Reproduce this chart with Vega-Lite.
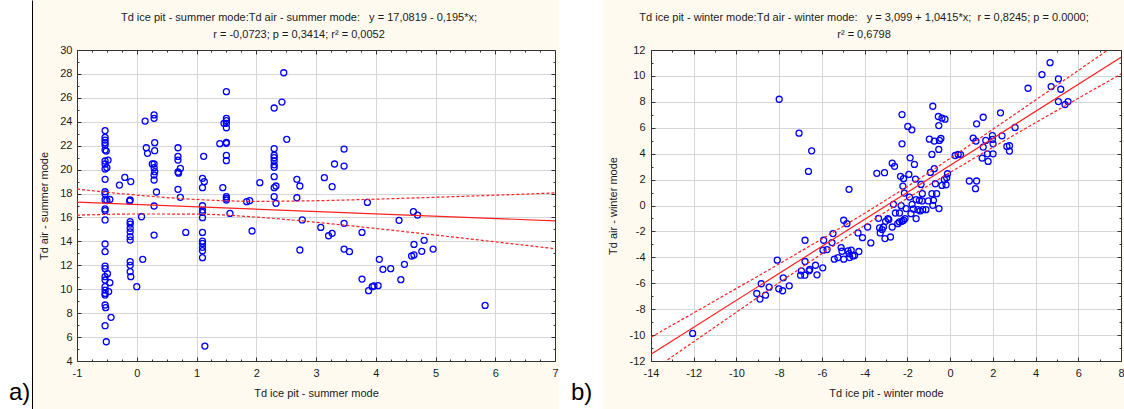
{
  "$schema": "https://vega.github.io/schema/vega-lite/v6.json",
  "background": "#fefaf0",
  "padding": {"left": 0, "right": 0, "top": 0, "bottom": 0},
  "spacing": 0,
  "config": {
    "font": "Liberation Sans",
    "locale": {"number": {"decimal": ".", "thousands": ",", "grouping": [3], "currency": ["", ""], "minus": "-"}},
    "view": {"stroke": null},
    "axis": {"labelFont": "Liberation Sans", "labelFontSize": 11, "labelColor": "#1a1a1a", "titleFont": "Liberation Sans", "titleFontSize": 11, "titleFontWeight": "normal", "titleColor": "#1a1a1a", "tickColor": "#333333", "domainColor": "#333333", "gridColor": "#d6d6d6", "labelFlush": false},
    "title": {"font": "Liberation Sans", "fontSize": 11, "fontWeight": "normal", "color": "#1a1a1a"}
  },
  "datasets": {
    "summerTitle": [
      {"line": 1, "t": "Td ice pit - summer mode:Td air - summer mode:\u00a0\u00a0 y = 17,0819 - 0,195*x;"},
      {"line": 2, "t": "r = -0,0723; p = 0,3414; r² = 0,0052"}
    ],
    "winterTitle": [
      {"line": 1, "t": "Td ice pit - winter mode:Td air - winter mode:\u00a0\u00a0 y = 3,099 + 1,0415*x;\u00a0 r = 0,8245; p = 0.0000;"},
      {"line": 2, "t": "r² = 0,6798"}
    ],
    "summer": [
      {"x": -0.53, "y": 23.26}, {"x": -0.53, "y": 22.7}, {"x": -0.53, "y": 22.47}, {"x": -0.53, "y": 22.25}, {"x": -0.53, "y": 22.06}, {"x": -0.53, "y": 21.64}, {"x": -0.51, "y": 21.55}, {"x": -0.53, "y": 20.72}, {"x": -0.53, "y": 20.47}, {"x": -0.53, "y": 20.05}, {"x": -0.53, "y": 19.19}, {"x": -0.53, "y": 18.15}, {"x": -0.53, "y": 17.96}, {"x": -0.53, "y": 17.46}, {"x": -0.53, "y": 16.71}, {"x": -0.53, "y": 16.57}, {"x": -0.53, "y": 15.79}, {"x": -0.53, "y": 13.78}, {"x": -0.53, "y": 13.14}, {"x": -0.53, "y": 11.94}, {"x": -0.53, "y": 11.72}, {"x": -0.53, "y": 11.05}, {"x": -0.53, "y": 10.77}, {"x": -0.53, "y": 10.21}, {"x": -0.53, "y": 9.93}, {"x": -0.53, "y": 9.65}, {"x": -0.53, "y": 9.51}, {"x": -0.53, "y": 8.68}, {"x": -0.52, "y": 8.46}, {"x": -0.53, "y": 6.95}, {"x": -0.51, "y": 5.61},
      {"x": -0.48, "y": 20.8}, {"x": -0.5, "y": 20.16}, {"x": -0.45, "y": 17.5}, {"x": -0.49, "y": 11.3}, {"x": -0.45, "y": 10.55}, {"x": -0.47, "y": 9.8}, {"x": -0.43, "y": 7.65}, {"x": -0.5, "y": 17.42},
      {"x": -0.11, "y": 17.46}, {"x": -0.12, "y": 17.36}, {"x": -0.11, "y": 15.65}, {"x": -0.11, "y": 15.45}, {"x": -0.11, "y": 15.1}, {"x": -0.11, "y": 14.8}, {"x": -0.11, "y": 14.4}, {"x": -0.11, "y": 14.11}, {"x": -0.11, "y": 12.3}, {"x": -0.11, "y": 12.0}, {"x": -0.11, "y": 11.47}, {"x": -0.1, "y": 11.05}, {"x": -0.1, "y": 19.0}, {"x": -0.2, "y": 19.35}, {"x": -0.29, "y": 18.71}, {"x": 0.0, "y": 10.21}, {"x": 0.08, "y": 16.06}, {"x": 0.1, "y": 12.5},
      {"x": 0.29, "y": 24.57}, {"x": 0.29, "y": 24.29}, {"x": 0.3, "y": 22.25}, {"x": 0.3, "y": 21.58}, {"x": 0.29, "y": 20.47}, {"x": 0.29, "y": 20.16}, {"x": 0.3, "y": 19.83}, {"x": 0.29, "y": 19.55}, {"x": 0.29, "y": 19.13}, {"x": 0.29, "y": 16.96}, {"x": 0.29, "y": 14.53}, {"x": 0.14, "y": 24.06}, {"x": 0.16, "y": 21.83}, {"x": 0.18, "y": 21.36}, {"x": 0.26, "y": 20.47}, {"x": 0.33, "y": 18.13},
      {"x": 0.69, "y": 21.83}, {"x": 0.69, "y": 21.1}, {"x": 0.69, "y": 20.8}, {"x": 0.69, "y": 19.8}, {"x": 0.7, "y": 19.7}, {"x": 0.69, "y": 18.35}, {"x": 0.73, "y": 20.1}, {"x": 0.73, "y": 17.68}, {"x": 0.82, "y": 14.75},
      {"x": 1.1, "y": 19.27}, {"x": 1.1, "y": 18.49}, {"x": 1.1, "y": 16.98}, {"x": 1.1, "y": 16.62}, {"x": 1.1, "y": 16.43}, {"x": 1.1, "y": 15.98}, {"x": 1.1, "y": 14.75}, {"x": 1.1, "y": 14.03}, {"x": 1.1, "y": 13.83}, {"x": 1.1, "y": 13.5}, {"x": 1.1, "y": 13.22}, {"x": 1.1, "y": 12.64}, {"x": 1.12, "y": 21.11}, {"x": 1.13, "y": 18.99}, {"x": 1.14, "y": 5.25},
      {"x": 1.5, "y": 26.52}, {"x": 1.5, "y": 24.29}, {"x": 1.5, "y": 24.1}, {"x": 1.5, "y": 23.87}, {"x": 1.5, "y": 23.5}, {"x": 1.5, "y": 22.28}, {"x": 1.5, "y": 22.2}, {"x": 1.5, "y": 21.19}, {"x": 1.5, "y": 20.75}, {"x": 1.5, "y": 17.74}, {"x": 1.5, "y": 17.6}, {"x": 1.5, "y": 17.46}, {"x": 1.46, "y": 23.87}, {"x": 1.44, "y": 18.49}, {"x": 1.39, "y": 22.17}, {"x": 1.56, "y": 16.34},
      {"x": 1.84, "y": 17.32}, {"x": 1.89, "y": 17.4}, {"x": 1.93, "y": 14.87}, {"x": 2.06, "y": 18.91},
      {"x": 2.3, "y": 25.15}, {"x": 2.3, "y": 21.75}, {"x": 2.3, "y": 21.2}, {"x": 2.3, "y": 21.0}, {"x": 2.3, "y": 20.75}, {"x": 2.3, "y": 20.4}, {"x": 2.3, "y": 20.19}, {"x": 2.3, "y": 19.41}, {"x": 2.3, "y": 18.49}, {"x": 2.3, "y": 17.74}, {"x": 2.33, "y": 18.63}, {"x": 2.33, "y": 17.18}, {"x": 2.43, "y": 25.65}, {"x": 2.46, "y": 28.1}, {"x": 2.51, "y": 22.53},
      {"x": 2.68, "y": 19.19}, {"x": 2.73, "y": 18.63}, {"x": 2.68, "y": 17.65}, {"x": 2.77, "y": 15.79}, {"x": 2.73, "y": 13.28},
      {"x": 3.08, "y": 15.17}, {"x": 3.14, "y": 19.33}, {"x": 3.27, "y": 18.57}, {"x": 3.31, "y": 20.47}, {"x": 3.21, "y": 14.47}, {"x": 3.27, "y": 14.67}, {"x": 3.47, "y": 21.72}, {"x": 3.47, "y": 20.3}, {"x": 3.47, "y": 15.51}, {"x": 3.47, "y": 13.36}, {"x": 3.56, "y": 13.14}, {"x": 3.77, "y": 14.75}, {"x": 3.77, "y": 10.85}, {"x": 3.86, "y": 17.26}, {"x": 3.88, "y": 9.88}, {"x": 3.94, "y": 10.21}, {"x": 3.97, "y": 10.27}, {"x": 4.04, "y": 10.3}, {"x": 4.06, "y": 12.5},
      {"x": 4.12, "y": 11.66}, {"x": 4.25, "y": 11.72}, {"x": 4.39, "y": 15.76}, {"x": 4.42, "y": 10.8}, {"x": 4.48, "y": 12.08}, {"x": 4.6, "y": 12.78}, {"x": 4.64, "y": 13.75}, {"x": 4.64, "y": 12.87}, {"x": 4.63, "y": 16.48}, {"x": 4.7, "y": 16.2}, {"x": 4.77, "y": 13.17}, {"x": 4.81, "y": 14.09}, {"x": 4.96, "y": 13.36}, {"x": 5.83, "y": 8.65}
    ],
    "summerFit": [{"x": -1, "y": 17.277}, {"x": 7, "y": 15.717}],
    "summerBand": [
      {"x": -1, "y": 18.37, "bound": "upper"}, {"x": 0, "y": 17.87, "bound": "upper"}, {"x": 1, "y": 17.5, "bound": "upper"}, {"x": 2, "y": 17.35, "bound": "upper"}, {"x": 3, "y": 17.4, "bound": "upper"}, {"x": 4, "y": 17.53, "bound": "upper"}, {"x": 5, "y": 17.69, "bound": "upper"}, {"x": 6, "y": 17.86, "bound": "upper"}, {"x": 7, "y": 18.05, "bound": "upper"},
      {"x": -1, "y": 16.19, "bound": "lower"}, {"x": 0, "y": 16.29, "bound": "lower"}, {"x": 1, "y": 16.28, "bound": "lower"}, {"x": 2, "y": 16.03, "bound": "lower"}, {"x": 3, "y": 15.6, "bound": "lower"}, {"x": 4, "y": 15.08, "bound": "lower"}, {"x": 5, "y": 14.53, "bound": "lower"}, {"x": 6, "y": 13.96, "bound": "lower"}, {"x": 7, "y": 13.39, "bound": "lower"}
    ],
    "winter": [
      {"x": -12.05, "y": -9.87}, {"x": -8.84, "y": -6.04}, {"x": -9.05, "y": -6.79}, {"x": -8.9, "y": -7.22}, {"x": -8.64, "y": -6.92}, {"x": -8.47, "y": -6.3},
      {"x": -8.0, "y": 8.2}, {"x": -7.07, "y": 5.58}, {"x": -6.48, "y": 4.22}, {"x": -6.63, "y": 2.63}, {"x": -4.73, "y": 1.25},
      {"x": -8.09, "y": -4.22}, {"x": -8.02, "y": -6.43}, {"x": -7.84, "y": -6.58}, {"x": -7.81, "y": -5.58}, {"x": -7.53, "y": -6.2},
      {"x": -6.79, "y": -2.68}, {"x": -6.79, "y": -4.32}, {"x": -6.96, "y": -5.04}, {"x": -7.0, "y": -5.38}, {"x": -6.8, "y": -5.38}, {"x": -6.6, "y": -5.04}, {"x": -6.57, "y": -4.94}, {"x": -6.3, "y": -4.61}, {"x": -6.23, "y": -5.35}, {"x": -5.96, "y": -4.81}, {"x": -5.92, "y": -2.68}, {"x": -5.95, "y": -3.45}, {"x": -5.76, "y": -3.4}, {"x": -5.53, "y": -2.86}, {"x": -5.48, "y": -2.17}, {"x": -5.42, "y": -4.14}, {"x": -5.25, "y": -4.02}, {"x": -5.1, "y": -3.25}, {"x": -5.06, "y": -3.53}, {"x": -4.98, "y": -1.14}, {"x": -4.83, "y": -1.4}, {"x": -4.98, "y": -4.14}, {"x": -4.78, "y": -3.5}, {"x": -4.73, "y": -3.71}, {"x": -4.63, "y": -3.45}, {"x": -4.55, "y": -3.89}, {"x": -4.7, "y": -4.02}, {"x": -4.47, "y": -3.86}, {"x": -4.31, "y": -2.12}, {"x": -4.27, "y": -3.55}, {"x": -4.1, "y": -2.48}, {"x": -3.86, "y": -1.66}, {"x": -3.71, "y": -2.89},
      {"x": -3.43, "y": 2.48}, {"x": -3.35, "y": -0.99}, {"x": -3.3, "y": -1.73}, {"x": -3.27, "y": -2.12}, {"x": -3.18, "y": -1.86}, {"x": -3.07, "y": 2.53}, {"x": -3.12, "y": -1.66}, {"x": -3.02, "y": -1.22}, {"x": -3.05, "y": -2.55}, {"x": -2.91, "y": -1.01}, {"x": -2.87, "y": -1.09}, {"x": -2.79, "y": -2.43}, {"x": -2.71, "y": -1.66}, {"x": -2.71, "y": 3.27}, {"x": -2.6, "y": 3.02}, {"x": -2.65, "y": 0.09}, {"x": -2.56, "y": -0.58}, {"x": -2.45, "y": -1.4}, {"x": -2.37, "y": -1.27}, {"x": -2.37, "y": -0.58}, {"x": -2.32, "y": 2.25}, {"x": -2.29, "y": -0.01}, {"x": -2.25, "y": -1.22}, {"x": -2.21, "y": 1.5}, {"x": -2.18, "y": -1.14}, {"x": -2.25, "y": 7.02}, {"x": -2.25, "y": 4.76}, {"x": -2.18, "y": 2.07}, {"x": -2.14, "y": 0.96}, {"x": -2.11, "y": -1.01}, {"x": -2.06, "y": -0.24}, {"x": -1.98, "y": 6.1}, {"x": -1.93, "y": 2.4}, {"x": -1.87, "y": 3.68}, {"x": -1.9, "y": 0.65}, {"x": -1.79, "y": 5.84}, {"x": -1.83, "y": -0.63}, {"x": -1.78, "y": 0.09}, {"x": -1.72, "y": -0.27}, {"x": -1.67, "y": 3.17}, {"x": -1.62, "y": 2.04}, {"x": -1.59, "y": 0.45}, {"x": -1.59, "y": -1.01}, {"x": -1.51, "y": -0.32}, {"x": -1.44, "y": 0.4}, {"x": -1.4, "y": -0.42}, {"x": -1.36, "y": 1.63}, {"x": -1.3, "y": 0.91}, {"x": -1.31, "y": 0.35}, {"x": -1.28, "y": -0.32}, {"x": -1.13, "y": -0.32}, {"x": -1.02, "y": 0.35}, {"x": -0.97, "y": 5.12}, {"x": -0.92, "y": 2.55}, {"x": -0.85, "y": 3.94}, {"x": -0.81, "y": 7.66}, {"x": -0.81, "y": 0.01}, {"x": -0.78, "y": 0.4}, {"x": -0.85, "y": 0.91}, {"x": -0.74, "y": 4.97}, {"x": -0.69, "y": 1.68}, {"x": -0.74, "y": 2.84}, {"x": -0.63, "y": 0.91}, {"x": -0.55, "y": 6.87}, {"x": -0.53, "y": 6.17}, {"x": -0.53, "y": 4.33}, {"x": -0.5, "y": 5.02}, {"x": -0.52, "y": -0.24}, {"x": -0.43, "y": 5.17}, {"x": -0.38, "y": 6.74}, {"x": -0.38, "y": 1.55}, {"x": -0.24, "y": 6.66}, {"x": -0.27, "y": 1.99}, {"x": -0.19, "y": 1.6}, {"x": -0.16, "y": 2.14}, {"x": -0.12, "y": 2.45}, {"x": 0.24, "y": 3.86}, {"x": 0.38, "y": 3.94},
      {"x": 0.49, "y": 3.92}, {"x": 0.9, "y": 1.89}, {"x": 1.24, "y": 1.89}, {"x": 1.19, "y": 1.3}, {"x": 1.24, "y": 6.3}, {"x": 1.55, "y": 6.81}, {"x": 1.08, "y": 5.2}, {"x": 1.21, "y": 4.97}, {"x": 1.67, "y": 5.02}, {"x": 1.55, "y": 4.51}, {"x": 1.5, "y": 3.66}, {"x": 1.75, "y": 3.99}, {"x": 1.78, "y": 3.4}, {"x": 1.98, "y": 5.4}, {"x": 1.98, "y": 5.1}, {"x": 2.01, "y": 4.76}, {"x": 2.01, "y": 3.99}, {"x": 2.36, "y": 7.15}, {"x": 2.43, "y": 5.38}, {"x": 2.66, "y": 4.56}, {"x": 2.78, "y": 4.61}, {"x": 2.78, "y": 4.2}, {"x": 3.04, "y": 6.02}, {"x": 3.65, "y": 9.05}, {"x": 4.3, "y": 10.1}, {"x": 4.68, "y": 11.02}, {"x": 4.73, "y": 9.18}, {"x": 5.07, "y": 9.77}, {"x": 5.18, "y": 8.97}, {"x": 5.07, "y": 8.02}, {"x": 5.38, "y": 7.79}, {"x": 5.52, "y": 8.02}
    ],
    "winterFit": [{"x": -14, "y": -11.482}, {"x": 8, "y": 11.431}],
    "winterBand": [
      {"x": -14, "y": -10.16, "bound": "upper"}, {"x": -12, "y": -8.285, "bound": "upper"}, {"x": -10, "y": -6.4, "bound": "upper"}, {"x": -8, "y": -4.5, "bound": "upper"}, {"x": -6, "y": -2.58, "bound": "upper"}, {"x": -4, "y": -0.6, "bound": "upper"}, {"x": -2, "y": 1.47, "bound": "upper"}, {"x": 0, "y": 3.64, "bound": "upper"}, {"x": 2, "y": 5.88, "bound": "upper"}, {"x": 4, "y": 8.14, "bound": "upper"}, {"x": 6, "y": 10.42, "bound": "upper"}, {"x": 8, "y": 12.71, "bound": "upper"},
      {"x": -14, "y": -12.8, "bound": "lower"}, {"x": -12, "y": -10.51, "bound": "lower"}, {"x": -10, "y": -8.23, "bound": "lower"}, {"x": -8, "y": -5.96, "bound": "lower"}, {"x": -6, "y": -3.72, "bound": "lower"}, {"x": -4, "y": -1.53, "bound": "lower"}, {"x": -2, "y": 0.56, "bound": "lower"}, {"x": 0, "y": 2.55, "bound": "lower"}, {"x": 2, "y": 4.49, "bound": "lower"}, {"x": 4, "y": 6.39, "bound": "lower"}, {"x": 6, "y": 8.27, "bound": "lower"}, {"x": 8, "y": 10.15, "bound": "lower"}
    ]
  },
  "hconcat": [
    {
      "width": 32, "height": 409,
      "view": {"fill": "#ffffff", "stroke": null},
      "title": {"text": "a)", "orient": "bottom", "anchor": "start", "frame": "group", "offset": -28, "dx": 9, "fontSize": 24, "color": "#000000"},
      "data": {"values": [{"v": 0.5}]},
      "mark": {"type": "rule", "opacity": 0},
      "encoding": {"y": {"field": "v", "type": "quantitative", "scale": {"domain": [0, 1]}, "axis": {"orient": "right", "domain": true, "domainColor": "#000000", "domainWidth": 1, "labels": false, "ticks": false, "grid": false, "title": null}}}
    },
    {
      "width": 6, "height": 409,
      "data": {"values": [{"v": 0}]},
      "mark": {"type": "text", "text": ""},
      "encoding": {}
    },
    {
      "spacing": 0,
      "vconcat": [
        {
          "width": 478, "height": 44,
          "data": {"name": "summerTitle"},
          "mark": {"type": "text", "fontSize": 11, "font": "Liberation Sans", "color": "#1a1a1a", "baseline": "middle", "align": "center", "dx": -17},
          "encoding": {
            "text": {"field": "t", "type": "nominal"},
            "y": {"field": "line", "type": "ordinal", "scale": {"type": "point", "domain": [1, 2], "padding": 0.794, "align": 0.685}, "axis": null}
          }
        },
        {
          "width": 478, "height": 311,
          "view": {"fill": "#ffffff", "stroke": null},
          "resolve": {"axis": {"x": "independent", "y": "independent"}},
          "layer": [
            {
              "data": {"name": "summer"},
              "mark": {"type": "point", "shape": "circle", "filled": false, "color": "#0000ff", "strokeWidth": 1.3, "size": 36, "opacity": 1},
              "encoding": {
                "x": {"field": "x", "type": "quantitative", "scale": {"domain": [-1, 7], "nice": false, "zero": false}, "axis": {"orient": "bottom", "values": [-1, 0, 1, 2, 3, 4, 5, 6, 7], "title": "Td ice pit - summer mode", "grid": true, "tickSize": -4, "labelPadding": 10, "titlePadding": 9, "domain": true}},
                "y": {"field": "y", "type": "quantitative", "scale": {"domain": [4, 30], "nice": false, "zero": false}, "axis": {"orient": "left", "values": [4, 6, 8, 10, 12, 14, 16, 18, 20, 22, 24, 26, 28, 30], "title": "Td air - summer mode", "grid": true, "tickSize": -4, "labelPadding": 9, "titlePadding": 10, "domain": true}}
              }
            },
            {
              "data": {"name": "summerFit"},
              "mark": {"type": "line", "color": "#ff2020", "strokeWidth": 1.2, "clip": true},
              "encoding": {
                "x": {"field": "x", "type": "quantitative", "scale": {"domain": [-1, 7], "nice": false, "zero": false}, "axis": {"orient": "top", "values": [-1, 0, 1, 2, 3, 4, 5, 6, 7], "labels": false, "tickSize": -4, "grid": false, "title": null, "domain": true}},
                "y": {"field": "y", "type": "quantitative", "scale": {"domain": [4, 30], "nice": false, "zero": false}, "axis": {"orient": "right", "values": [4, 6, 8, 10, 12, 14, 16, 18, 20, 22, 24, 26, 28, 30], "labels": false, "tickSize": -4, "grid": false, "title": null, "domain": true}}
              }
            },
            {
              "data": {"name": "summerBand"},
              "mark": {"type": "line", "color": "#ff2020", "strokeWidth": 1.2, "strokeDash": [3, 2], "clip": true, "interpolate": "monotone"},
              "encoding": {
                "x": {"field": "x", "type": "quantitative", "scale": {"domain": [-1, 7], "nice": false, "zero": false}, "axis": {"orient": "bottom", "values": [-0.75, -0.5, -0.25, 0.25, 0.5, 0.75, 1.25, 1.5, 1.75, 2.25, 2.5, 2.75, 3.25, 3.5, 3.75, 4.25, 4.5, 4.75, 5.25, 5.5, 5.75, 6.25, 6.5, 6.75], "labels": false, "tickSize": -2, "grid": false, "title": null, "domain": false}},
                "y": {"field": "y", "type": "quantitative", "scale": {"domain": [4, 30], "nice": false, "zero": false}, "axis": {"orient": "left", "values": [5, 7, 9, 11, 13, 15, 17, 19, 21, 23, 25, 27, 29], "labels": false, "tickSize": -2, "grid": false, "title": null, "domain": false}},
                "detail": {"field": "bound", "type": "nominal"}
              }
            },
            {
              "data": {"name": "summerFit"},
              "mark": {"type": "line", "opacity": 0},
              "encoding": {
                "x": {"field": "x", "type": "quantitative", "scale": {"domain": [-1, 7], "nice": false, "zero": false}, "axis": {"orient": "top", "values": [-0.75, -0.5, -0.25, 0.25, 0.5, 0.75, 1.25, 1.5, 1.75, 2.25, 2.5, 2.75, 3.25, 3.5, 3.75, 4.25, 4.5, 4.75, 5.25, 5.5, 5.75, 6.25, 6.5, 6.75], "labels": false, "tickSize": -2, "grid": false, "title": null, "domain": false}},
                "y": {"field": "y", "type": "quantitative", "scale": {"domain": [4, 30], "nice": false, "zero": false}, "axis": {"orient": "right", "values": [5, 7, 9, 11, 13, 15, 17, 19, 21, 23, 25, 27, 29], "labels": false, "tickSize": -2, "grid": false, "title": null, "domain": false}}
              }
            }
          ]
        }
      ]
    },
    {
      "width": 44, "height": 409,
      "view": {"fill": "#ffffff", "stroke": null},
      "title": {"text": "b)", "orient": "bottom", "anchor": "start", "frame": "group", "offset": -28, "dx": 12, "fontSize": 24, "color": "#000000"},
      "data": {"values": [{"v": 0}]},
      "mark": {"type": "text", "text": ""},
      "encoding": {}
    },
    {
      "width": 4, "height": 409,
      "data": {"values": [{"v": 0}]},
      "mark": {"type": "text", "text": ""},
      "encoding": {}
    },
    {
      "spacing": 0,
      "vconcat": [
        {
          "width": 470, "height": 44,
          "data": {"name": "winterTitle"},
          "mark": {"type": "text", "fontSize": 11, "font": "Liberation Sans", "color": "#1a1a1a", "baseline": "middle", "align": "center", "dx": -22},
          "encoding": {
            "text": {"field": "t", "type": "nominal"},
            "y": {"field": "line", "type": "ordinal", "scale": {"type": "point", "domain": [1, 2], "padding": 0.794, "align": 0.685}, "axis": null}
          }
        },
        {
          "width": 470, "height": 311,
          "view": {"fill": "#ffffff", "stroke": null},
          "resolve": {"axis": {"x": "independent", "y": "independent"}},
          "layer": [
            {
              "data": {"name": "winter"},
              "mark": {"type": "point", "shape": "circle", "filled": false, "color": "#0000ff", "strokeWidth": 1.3, "size": 36, "opacity": 1},
              "encoding": {
                "x": {"field": "x", "type": "quantitative", "scale": {"domain": [-14, 8], "nice": false, "zero": false}, "axis": {"orient": "bottom", "values": [-14, -12, -10, -8, -6, -4, -2, 0, 2, 4, 6, 8], "title": "Td ice pit - winter mode", "grid": true, "tickSize": -4, "labelPadding": 10, "titlePadding": 9, "domain": true}},
                "y": {"field": "y", "type": "quantitative", "scale": {"domain": [-12, 12], "nice": false, "zero": false}, "axis": {"orient": "left", "values": [-12, -10, -8, -6, -4, -2, 0, 2, 4, 6, 8, 10, 12], "title": "Td air - winter mode", "grid": true, "tickSize": -4, "labelPadding": 10, "titlePadding": 11, "domain": true}}
              }
            },
            {
              "data": {"name": "winterFit"},
              "mark": {"type": "line", "color": "#ff2020", "strokeWidth": 1.2, "clip": true},
              "encoding": {
                "x": {"field": "x", "type": "quantitative", "scale": {"domain": [-14, 8], "nice": false, "zero": false}, "axis": {"orient": "top", "values": [-14, -12, -10, -8, -6, -4, -2, 0, 2, 4, 6, 8], "labels": false, "tickSize": -4, "grid": false, "title": null, "domain": true}},
                "y": {"field": "y", "type": "quantitative", "scale": {"domain": [-12, 12], "nice": false, "zero": false}, "axis": {"orient": "right", "values": [-12, -10, -8, -6, -4, -2, 0, 2, 4, 6, 8, 10, 12], "labels": false, "tickSize": -4, "grid": false, "title": null, "domain": true}}
              }
            },
            {
              "data": {"name": "winterBand"},
              "mark": {"type": "line", "color": "#ff2020", "strokeWidth": 1.2, "strokeDash": [3, 2], "clip": true, "interpolate": "monotone"},
              "encoding": {
                "x": {"field": "x", "type": "quantitative", "scale": {"domain": [-14, 8], "nice": false, "zero": false}, "axis": {"orient": "bottom", "values": [-13, -11, -9, -7, -5, -3, -1, 1, 3, 5, 7], "labels": false, "tickSize": -2, "grid": false, "title": null, "domain": false}},
                "y": {"field": "y", "type": "quantitative", "scale": {"domain": [-12, 12], "nice": false, "zero": false}, "axis": {"orient": "left", "values": [-11, -9, -7, -5, -3, -1, 1, 3, 5, 7, 9, 11], "labels": false, "tickSize": -2, "grid": false, "title": null, "domain": false}},
                "detail": {"field": "bound", "type": "nominal"}
              }
            },
            {
              "data": {"name": "winterFit"},
              "mark": {"type": "line", "opacity": 0},
              "encoding": {
                "x": {"field": "x", "type": "quantitative", "scale": {"domain": [-14, 8], "nice": false, "zero": false}, "axis": {"orient": "top", "values": [-13, -11, -9, -7, -5, -3, -1, 1, 3, 5, 7], "labels": false, "tickSize": -2, "grid": false, "title": null, "domain": false}},
                "y": {"field": "y", "type": "quantitative", "scale": {"domain": [-12, 12], "nice": false, "zero": false}, "axis": {"orient": "right", "values": [-11, -9, -7, -5, -3, -1, 1, 3, 5, 7, 9, 11], "labels": false, "tickSize": -2, "grid": false, "title": null, "domain": false}}
              }
            }
          ]
        }
      ]
    }
  ]
}
